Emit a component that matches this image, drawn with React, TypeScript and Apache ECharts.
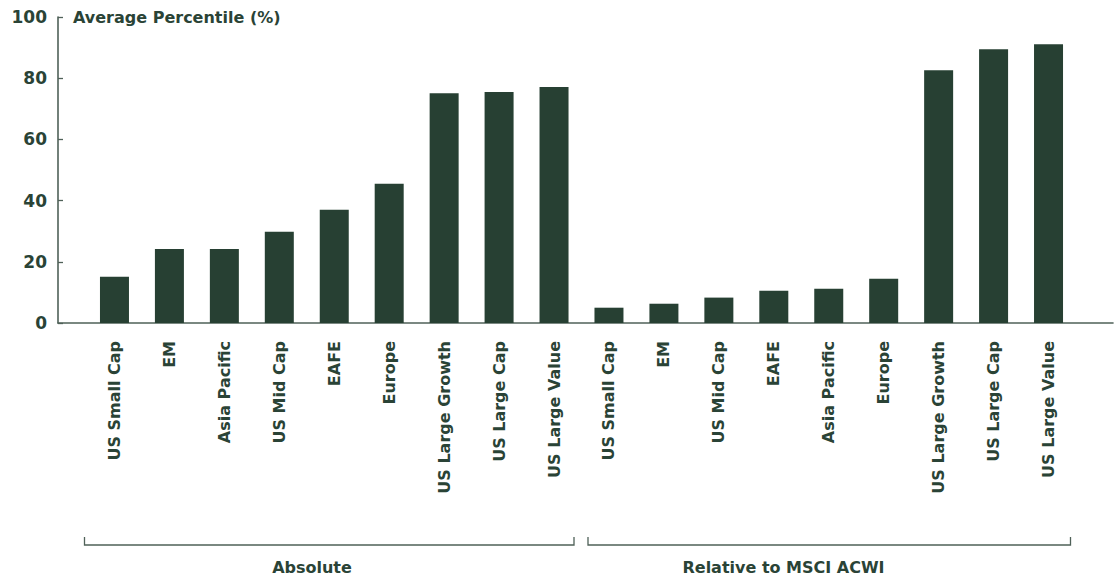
import { useEffect, useRef } from "react";
import * as echarts from "echarts";

const absoluteCategories = ["US Small Cap", "EM", "Asia Pacific", "US Mid Cap", "EAFE", "Europe", "US Large Growth", "US Large Cap", "US Large Value"];
const absoluteValues = [15.1, 24.2, 24.2, 29.8, 37.0, 45.5, 75.1, 75.5, 77.1];
const relativeCategories = ["US Small Cap", "EM", "US Mid Cap", "EAFE", "Asia Pacific", "Europe", "US Large Growth", "US Large Cap", "US Large Value"];
const relativeValues = [5.0, 6.3, 8.3, 10.5, 11.2, 14.5, 82.6, 89.5, 91.1];
const groupLabels = ["Absolute", "Relative to MSCI ACWI"];
const yAxisTitle = "Average Percentile (%)";
const yMin = 0;
const yMax = 100;
const yInterval = 20;

const BAR = "#274033";
const TEXT = "#2A4336";
const AXIS = "#4F6158";
const FONT = "DejaVu Sans";

export default function App() {
  const ref = useRef<HTMLDivElement>(null);

  useEffect(() => {
    if (!ref.current) return;
    const chart = echarts.init(ref.current, undefined, { renderer: "svg" });
    const labels = absoluteCategories.concat(relativeCategories);
    const values = absoluteValues.concat(relativeValues);
    const keys = labels.map((_, i) => "c" + i);

    const bracket = (x1: number, x2: number) => ({
      type: "polyline",
      shape: { points: [[x1, 537], [x1, 545], [x2, 545], [x2, 537]] },
      style: { stroke: AXIS, lineWidth: 1.3, fill: "none" },
      silent: true,
    });

    chart.setOption({
      animation: false,
      backgroundColor: "#ffffff",
      title: {
        text: yAxisTitle,
        left: 73,
        top: 9,
        padding: 0,
        textStyle: { fontFamily: FONT, fontSize: 16, fontWeight: "bold", color: TEXT },
      },
      grid: [
        { left: 58, right: 6, top: 17, bottom: 254, containLabel: false },
        { left: 87, right: 43, top: 17, bottom: 254, containLabel: false },
      ],
      xAxis: [
        {
          gridIndex: 0,
          type: "value",
          min: 0,
          max: 1,
          axisLine: { show: true, lineStyle: { color: AXIS, width: 1.6 } },
          axisTick: { show: false },
          axisLabel: { show: false },
          splitLine: { show: false },
        },
        {
          gridIndex: 1,
          type: "category",
          data: keys,
          axisLine: { show: false },
          axisTick: { show: false },
          axisLabel: {
            interval: 0,
            rotate: 90,
            margin: 18,
            fontFamily: FONT,
            fontSize: 16,
            fontWeight: "bold",
            color: TEXT,
            formatter: (_v: string, i: number) => labels[i],
          },
        },
      ],
      yAxis: [
        {
          gridIndex: 0,
          type: "value",
          min: yMin,
          max: yMax,
          interval: yInterval,
          axisLine: { show: true, lineStyle: { color: AXIS, width: 1.6 } },
          axisTick: { show: true, inside: true, length: 5, lineStyle: { color: AXIS, width: 1.3 } },
          axisLabel: { margin: 11, fontFamily: FONT, fontSize: 17, fontWeight: "bold", color: TEXT },
          splitLine: { show: false },
        },
        {
          gridIndex: 1,
          type: "value",
          min: yMin,
          max: yMax,
          show: false,
          splitLine: { show: false },
        },
      ],
      series: [
        {
          type: "bar",
          xAxisIndex: 1,
          yAxisIndex: 1,
          data: values,
          barWidth: 29,
          itemStyle: { color: BAR },
          silent: true,
        },
      ],
      graphic: [
        bracket(84.5, 574),
        bracket(588, 1070.5),
        {
          type: "text",
          x: 312,
          y: 567,
          style: { text: groupLabels[0], fill: TEXT, font: `bold 16px "${FONT}"`, textAlign: "center", textVerticalAlign: "middle" },
          silent: true,
        },
        {
          type: "text",
          x: 783.5,
          y: 567,
          style: { text: groupLabels[1], fill: TEXT, font: `bold 16px "${FONT}"`, textAlign: "center", textVerticalAlign: "middle" },
          silent: true,
        },
      ],
    });

    return () => chart.dispose();
  }, []);

  return (
    <div
      ref={ref}
      style={{ position: "absolute", left: 0, top: 0, width: 1119, height: 577, background: "#fff" }}
    />
  );
}
